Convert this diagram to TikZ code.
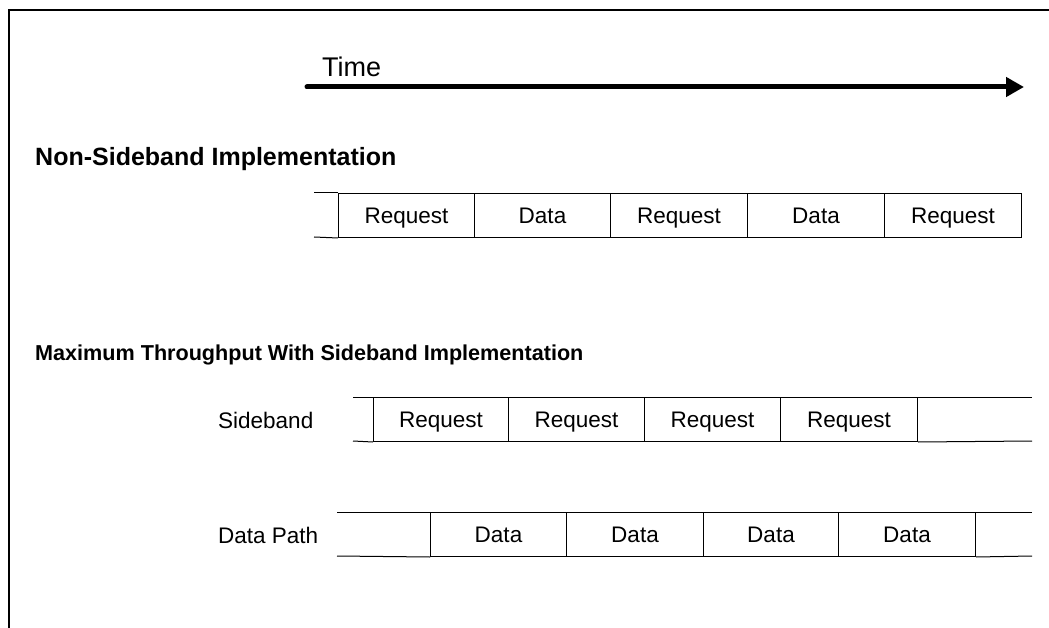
\documentclass[tikz,border=0pt]{standalone}
\usepackage{fontspec}
\setmainfont{Liberation Sans}
\usetikzlibrary{arrows.meta}
\begin{document}
\begin{tikzpicture}[x=1pt,y=-1pt,
  txt/.style={font=\fontsize{22.5}{22.5}\selectfont, inner sep=0pt, anchor=base west},
  cell/.style={draw, line width=1pt, minimum height=44pt, inner sep=0pt, anchor=north west,
    text height=16pt, text depth=0pt, font=\fontsize{22.5}{22.5}\selectfont},
  rail/.style={line width=1pt}]
\useasboundingbox (0,0) rectangle (1049,628);
% frame
\coordinate (fbl) at (9,628);
\coordinate (ftl) at (9,10);
\coordinate (ftr) at (1049,10);
\draw[line width=2pt] (fbl) -- (ftl) -- (ftr);
% time arrow
\coordinate (ta) at (307,87);
\coordinate (tb) at (1024,87);
\draw[line width=5pt, line cap=round, -{Triangle[length=18pt,width=19pt]}] (ta) -- (tb);
\node[anchor=base west, font=\fontsize{27}{27}\selectfont, inner sep=0pt] (time) at (322,77) {Time};
% headings
\node[anchor=base west, inner sep=0pt, font=\bfseries\fontsize{25}{25}\selectfont] (h1) at (35,166) {Non-Sideband Implementation};
\node[anchor=base west, inner sep=0pt, font=\bfseries\fontsize{21.6}{21.6}\selectfont] (h2) at (35,360) {Maximum Throughput With Sideband Implementation};
% row 1
\node[cell, minimum width=136pt] (a1) at (338,193) {Request};
\node[cell, minimum width=136pt] (a2) at (474,193) {Data};
\node[cell, minimum width=137pt] (a3) at (610,193) {Request};
\node[cell, minimum width=137pt] (a4) at (747,193) {Data};
\node[cell, minimum width=137pt] (a5) at (884,193) {Request};
\coordinate (a0t) at (314,193);
\coordinate (a0b) at (314,237);
\draw[rail] (a0t) -- (a1.north west);
\draw[rail] (a0b) -- (a1.south west);
% sideband row
\node[txt] (lsb) at (218,428) {Sideband};
\node[cell, minimum width=135pt] (b1) at (373,397) {Request};
\node[cell, minimum width=136pt] (b2) at (508,397) {Request};
\node[cell, minimum width=136pt] (b3) at (644,397) {Request};
\node[cell, minimum width=137pt] (b4) at (780,397) {Request};
\coordinate (b0t) at (353,397);
\coordinate (b0b) at (353,441);
\coordinate (b9t) at (1032,397);
\coordinate (b9b) at (1032,441);
\draw[rail] (b0t) -- (b1.north west);
\draw[rail] (b0b) -- (b1.south west);
\draw[rail] (b4.north east) -- (b9t);
\draw[rail] (b4.south east) -- (b9b);
% data path row
\node[txt] (ldp) at (218,543) {Data Path};
\node[cell, minimum width=136pt] (c1) at (430,512) {Data};
\node[cell, minimum width=137pt] (c2) at (566,512) {Data};
\node[cell, minimum width=135pt] (c3) at (703,512) {Data};
\node[cell, minimum width=137pt] (c4) at (838,512) {Data};
\coordinate (c0t) at (337,512);
\coordinate (c0b) at (337,556);
\coordinate (c9t) at (1032,512);
\coordinate (c9b) at (1032,556);
\draw[rail] (c0t) -- (c1.north west);
\draw[rail] (c0b) -- (c1.south west);
\draw[rail] (c4.north east) -- (c9t);
\draw[rail] (c4.south east) -- (c9b);
\end{tikzpicture}
\end{document}
